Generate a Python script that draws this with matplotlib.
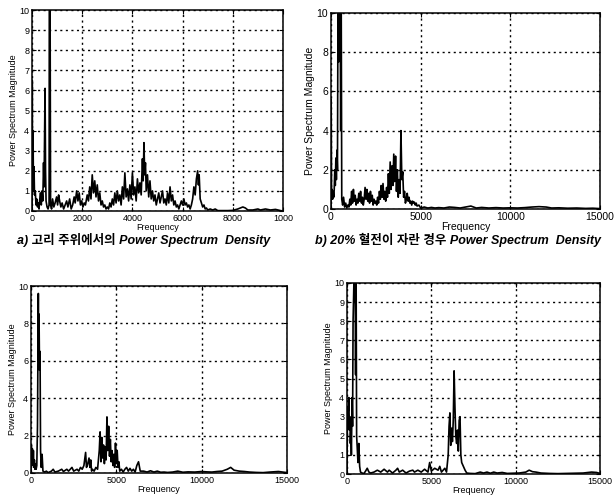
import matplotlib
matplotlib.use("Agg")
import matplotlib.pyplot as plt

plt.rcParams['font.family'] = ['Liberation Sans', 'Noto Sans CJK KR', 'DejaVu Sans']

# ---------------- data ----------------
freq_a1 = [0, 10, 20, 40, 60, 80, 100, 130, 160, 190, 220, 250, 280, 310, 340, 370, 400, 430, 460, 480,
           500, 520, 540, 560, 600, 640, 680, 700, 710, 720, 740, 780, 820, 870, 920, 980, 1020, 1060, 1100,
           1150, 1200, 1260, 1320, 1380, 1430, 1500, 1560, 1620, 1680, 1720, 1780, 1830, 1880, 1930, 1980,
           2030, 2080, 2130, 2200, 2250, 2300, 2350, 2400, 2450, 2500, 2550, 2600, 2650, 2700, 2750, 2800,
           2850, 2900, 2950, 3000, 3050, 3100, 3150, 3200, 3250, 3300, 3350, 3400, 3450, 3500, 3550, 3600,
           3650, 3700, 3750, 3800, 3850, 3900, 3950, 4000, 4050, 4100, 4150, 4200, 4250, 4300, 4350, 4400,
           4430, 4460, 4490, 4520, 4550, 4600, 4650, 4700, 4750, 4800, 4850, 4900, 4950, 5000, 5050, 5100,
           5150, 5200, 5250, 5300, 5350, 5400, 5450, 5500, 5550, 5600, 5650, 5700, 5750, 5800, 5850, 5900,
           5950, 6000, 6050, 6100, 6150, 6200, 6250, 6300, 6350, 6400, 6450, 6500, 6550, 6600, 6630, 6660,
           6700, 6750, 6800, 6850, 6900, 6950, 7000, 7100, 7200, 7300, 7400, 7600, 7800, 8000, 8200, 8400,
           8500, 8600, 8800, 9000, 9100, 9300, 9500, 9700, 9900, 10000]
mag_a1 = [0, 6.5, 2.6, 4.0, 1.0, 2.2, 0.8, 1.0, 0.3, 0.6, 0.2, 0.4, 0.1, 0.6, 0.9, 0.3, 1.0, 0.5, 2.4, 1.2,
          3.5, 6.1, 2.0, 0.5, 0.2, 0.1, 0.3, 10.5, 2.3, 10.5, 0.3, 0.1, 0.6, 0.2, 0.4, 0.7, 0.3, 0.8, 0.5,
          0.2, 0.4, 0.1, 0.3, 0.5, 0.2, 0.6, 0.1, 0.3, 0.7, 0.4, 1.0, 0.5, 0.9, 0.3, 0.5,
          0.2, 0.4, 0.3, 0.8, 0.5, 1.2, 0.6, 1.8, 0.9, 1.5, 0.7, 1.3, 0.5, 0.9, 0.3, 0.5,
          0.2, 0.3, 0.1, 0.2, 0.1, 0.4, 0.2, 0.6, 0.3, 0.9, 0.4, 1.0, 0.5, 0.8, 0.3, 1.2,
          0.6, 1.9, 0.7, 1.1, 0.5, 1.3, 0.6, 1.9, 0.8, 1.2, 0.5, 1.6, 0.9, 1.4, 0.8, 2.6,
          1.5, 3.4, 1.8, 2.4, 1.0, 1.8, 0.7, 1.5, 0.6, 1.0, 0.5, 0.8, 0.3, 0.6, 0.9, 0.4,
          0.7, 1.0, 0.4, 0.6, 0.3, 0.9, 0.4, 1.2, 0.5, 0.8, 0.3, 0.5, 0.2, 0.3, 0.1, 0.3,
          0.5, 0.3, 0.6, 0.3, 0.4, 0.2, 0.3, 0.1, 0.3, 0.6, 1.2, 0.8, 1.6, 2.0, 1.3, 1.8,
          0.6, 0.4, 0.2, 0.3, 0.1, 0.15, 0.05, 0.1, 0.05, 0.1, 0.02, 0.02, 0.02, 0.03, 0.1, 0.2,
          0.15, 0.05, 0.05, 0.1, 0.05, 0.1, 0.05, 0.08, 0.02, 0.0]

freq_b1 = [0, 10, 30, 60, 90, 120, 150, 180, 210, 240, 270, 300, 330, 360, 390, 420, 450, 480, 510, 540,
           570, 600, 650, 700, 760, 820, 880, 940, 1000, 1050, 1100, 1150, 1200, 1250, 1300, 1350, 1400,
           1450, 1500, 1550, 1600, 1650, 1700, 1750, 1800, 1850, 1900, 1950, 2000, 2050, 2100, 2150, 2200,
           2250, 2300, 2350, 2400, 2450, 2500, 2550, 2600, 2650, 2700, 2750, 2800, 2850, 2900, 2950, 3000,
           3050, 3100, 3150, 3200, 3250, 3300, 3350, 3400, 3450, 3500, 3550, 3600, 3650, 3700, 3750, 3800,
           3850, 3900, 3950, 4000, 4050, 4100, 4150, 4200, 4250, 4300, 4350, 4400, 4450, 4500, 4550, 4600,
           4650, 4700, 4750, 4800, 4900, 5000, 5200, 5400, 5600, 5800, 6000, 6300, 6600, 6900, 7200, 7500,
           7800, 8100, 8400, 8800, 9200, 9600, 10000, 10400, 10800, 11200, 11600, 12000, 12300, 12700,
           13200, 13700, 14200, 14600, 15000]
mag_b1 = [0, 5.6, 0.8, 1.0, 0.5, 0.9, 0.6, 1.0, 2.0, 1.2, 2.6, 1.5, 3.0, 2.0, 10.5, 7.5, 10.5, 8.0, 10.5, 4.0,
          10.5, 0.5, 0.2, 0.6, 0.1, 0.3, 0.05, 0.2, 0.1, 0.5, 0.2, 0.9, 0.3, 1.0, 0.4, 0.7, 0.2,
          0.5, 0.3, 0.8, 0.4, 0.9, 0.3, 0.6, 0.2, 0.5, 1.1, 0.5, 1.0, 0.4, 0.8, 0.3, 0.9,
          0.4, 0.7, 0.2, 0.5, 0.3, 0.4, 0.2, 0.6, 0.3, 0.9, 0.5, 1.2, 0.6, 1.3, 0.5, 0.9,
          0.4, 1.1, 0.6, 1.8, 0.8, 2.4, 1.0, 2.2, 1.2, 2.8, 1.4, 2.7, 0.9, 2.0, 0.6, 1.5,
          0.8, 4.0, 1.5, 1.9, 0.6, 0.9, 0.3, 0.5, 0.8, 0.4, 0.6, 0.3, 0.4, 0.2, 0.4, 0.3,
          0.35, 0.2, 0.3, 0.15, 0.2, 0.05, 0.1, 0.05, 0.08, 0.05, 0.07, 0.05, 0.1, 0.08, 0.05, 0.1,
          0.15, 0.05, 0.08, 0.05, 0.07, 0.05, 0.06, 0.05, 0.07, 0.1, 0.12, 0.1, 0.05, 0.06,
          0.04, 0.05, 0.03, 0.04, 0.02]

freq_a2 = [0, 20, 50, 80, 110, 140, 170, 200, 230, 260, 300, 340, 380, 410, 430, 450, 470, 500, 530, 560,
           600, 650, 700, 800, 900, 1000, 1200, 1300, 1400, 1600, 1800, 1900, 2100, 2200, 2400, 2500, 2700,
           2800, 2900, 3000, 3100, 3200, 3250, 3300, 3400, 3450, 3500, 3550, 3600, 3700, 3800, 3900, 4000,
           4050, 4100, 4150, 4200, 4250, 4300, 4350, 4400, 4450, 4500, 4550, 4600, 4650, 4700, 4750, 4800,
           4850, 4900, 4950, 5000, 5050, 5100, 5150, 5200, 5300, 5400, 5500, 5600, 5700, 5800, 5900, 6000,
           6100, 6200, 6300, 6400, 6600, 6800, 7000, 7200, 7400, 7600, 7800, 8000, 8300, 8600, 8900, 9200,
           9600, 10000, 10300, 10600, 10900, 11200, 11500, 11700, 11900, 12200, 12500, 12800, 13200, 13600,
           14000, 14500, 15000]
mag_a2 = [0, 1.5, 0.6, 1.3, 0.4, 1.2, 0.3, 0.7, 0.2, 0.5, 0.2, 0.4, 2.5, 7.0, 9.6, 6.0, 8.5, 5.5, 6.5, 1.2,
          0.3, 1.0, 0.1, 0.05, 0.1, 0.02, 0.1, 0.2, 0.05, 0.1, 0.2, 0.08, 0.2, 0.1, 0.3, 0.1, 0.2,
          0.1, 0.3, 0.2, 0.4, 1.1, 0.3, 0.4, 0.8, 0.3, 0.7, 0.1, 0.2, 0.1, 0.3, 0.2, 1.2,
          2.2, 0.6, 1.9, 0.8, 1.5, 0.5, 1.4, 0.7, 3.0, 1.2, 2.5, 0.9, 1.8, 0.6, 1.2, 0.4,
          1.0, 0.3, 1.6, 0.5, 1.2, 0.3, 0.6, 0.1, 0.2, 0.05, 0.2, 0.3, 0.1, 0.25, 0.1, 0.2,
          0.05, 0.4, 0.6, 0.1, 0.1, 0.05, 0.12, 0.05, 0.1, 0.04, 0.05, 0.03, 0.05, 0.1, 0.04, 0.06,
          0.05, 0.08, 0.06, 0.05, 0.08, 0.1, 0.2, 0.3, 0.15, 0.1, 0.08, 0.05, 0.03, 0.02,
          0.05, 0.08, 0.02]

freq_b2 = [0, 20, 50, 80, 110, 140, 170, 200, 230, 260, 300, 330, 360, 390, 420, 450, 480, 510, 540, 570,
           600, 650, 700, 750, 800, 900, 1000, 1100, 1200, 1300, 1400, 1600, 1800, 2000, 2200, 2400, 2500,
           2700, 2900, 3000, 3100, 3300, 3500, 3700, 3900, 4000, 4200, 4400, 4600, 4800, 4900, 5000, 5200,
           5400, 5500, 5600, 5800, 5900, 6000, 6050, 6100, 6150, 6200, 6250, 6300, 6350, 6400, 6450, 6500,
           6550, 6600, 6650, 6700, 6750, 6800, 6900, 7000, 7100, 7300, 7600, 7900, 8100, 8300, 8500, 8700,
           8900, 9200, 9500, 9800, 10200, 10600, 10800, 11000, 11200, 11500, 12000, 12500, 13000, 13500,
           14000, 14500, 14800, 15000]
mag_b2 = [0, 2.5, 3.5, 3.3, 4.0, 2.3, 3.0, 1.6, 2.3, 1.0, 4.0, 2.5, 8.0, 9.2, 10.5, 9.0, 10.5, 5.2, 10.5, 2.0,
          1.5, 0.6, 1.6, 0.4, 0.1, 0.05, 0.02, 0.15, 0.3, 0.1, 0.05, 0.1, 0.2, 0.1, 0.25, 0.1, 0.2,
          0.05, 0.2, 0.3, 0.1, 0.2, 0.05, 0.15, 0.2, 0.1, 0.2, 0.1, 0.25, 0.1, 0.6, 0.15, 0.3,
          0.2, 0.4, 0.1, 0.3, 0.1, 1.0, 2.5, 3.2, 1.5, 2.4, 1.7, 2.8, 5.4, 3.5, 2.0, 1.6,
          2.3, 1.2, 2.8, 3.0, 1.0, 0.6, 0.4, 0.2, 0.05, 0.03, 0.02, 0.1, 0.05, 0.1, 0.04, 0.1,
          0.05, 0.08, 0.03, 0.04, 0.05, 0.1, 0.2, 0.12, 0.1, 0.05, 0.03, 0.02, 0.03, 0.04,
          0.05, 0.1, 0.08, 0.03]

xticks_a1 = [0, 2000, 4000, 6000, 8000, 10000]
xticklabels_a1 = ['0', '2000', '4000', '6000', '8000', '1000']
xticks_wide = [0, 5000, 10000, 15000]
yticks_step1 = list(range(0, 11))
yticks_step2 = [0, 2, 4, 6, 8, 10]

caption_a = 'a) 고리 주위에서의 Power Spectrum  Density'
caption_b = 'b) 20% 혈전이 자란 경우 Power Spectrum  Density'
xlabel = 'Frequency'
ylabel = 'Power Spectrum Magnitude'

# ---------------- figure ----------------
W, H = 614, 501
fig = plt.figure(figsize=(W / 100, H / 100), dpi=100)


def make_ax(left, right, top, bottom):
    return fig.add_axes([left / W, 1 - bottom / H, (right - left) / W, (bottom - top) / H])


def style(ax, fs, lfs):
    ax.set_ylim(0, 10)
    ax.grid(True, color='black', linestyle=(0, (1.5, 2.5)), linewidth=1.0)
    ax.tick_params(direction='in', length=3, width=0.8, labelsize=fs, pad=2,
                   top=True, right=True)
    for s in ax.spines.values():
        s.set_linewidth(1.1)
        s.set_color('black')
    ax.set_xlabel(xlabel, fontsize=lfs, labelpad=0)
    ax.set_ylabel(ylabel, fontsize=lfs, labelpad=1)


LW = 1.2

ax1 = make_ax(32, 283, 10, 211)
ax1.plot(freq_a1, mag_a1, color='black', linewidth=LW)
ax1.set_xlim(0, 10000)
ax1.set_xticks(xticks_a1)
ax1.set_xticklabels(xticklabels_a1)
ax1.set_yticks(yticks_step1)
style(ax1, 6.5, 6.5)

ax2 = make_ax(331, 600, 13, 209)
ax2.plot(freq_b1, mag_b1, color='black', linewidth=LW)
ax2.set_xlim(0, 15000)
ax2.set_xticks(xticks_wide)
ax2.set_yticks(yticks_step2)
style(ax2, 7.5, 7.5)

ax3 = make_ax(31, 287, 286, 473)
ax3.plot(freq_a2, mag_a2, color='black', linewidth=LW)
ax3.set_xlim(0, 15000)
ax3.set_xticks(xticks_wide)
ax3.set_yticks(yticks_step2)
style(ax3, 6.5, 6.5)

ax4 = make_ax(347, 600, 283, 474)
ax4.plot(freq_b2, mag_b2, color='black', linewidth=LW)
ax4.set_xlim(0, 15000)
ax4.set_xticks(xticks_wide)
ax4.set_yticks(yticks_step1)
style(ax4, 6.5, 6.5)

fig.text(17 / W, 1 - 240 / H, caption_a, fontsize=9, fontweight='bold', style='italic',
         va='center', ha='left', family=['Liberation Sans', 'Noto Sans CJK KR'])
fig.text(315 / W, 1 - 240 / H, caption_b, fontsize=9, fontweight='bold', style='italic',
         va='center', ha='left', family=['Liberation Sans', 'Noto Sans CJK KR'])

fig.savefig('out.png', dpi=100)
